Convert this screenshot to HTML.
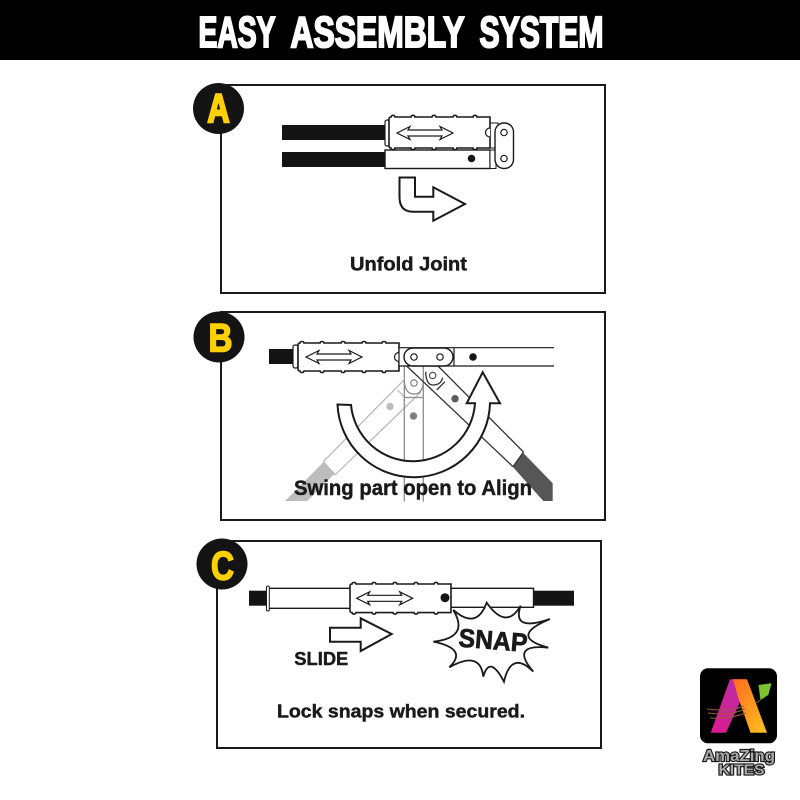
<!DOCTYPE html>
<html>
<head>
<meta charset="utf-8">
<style>
html,body{margin:0;padding:0;background:#fff;width:800px;height:800px;overflow:hidden}
svg{display:block}
text{font-family:"Liberation Sans",sans-serif;font-weight:bold}
.l{fill:#1a1a1a;stroke:#1a1a1a;stroke-width:.45}
.h{fill:#fff;stroke:#fff;stroke-width:2.1}
.b{fill:#fdd000;stroke:#fdd000;stroke-width:1.6}
.k{fill:#aaa;stroke:#161616;stroke-width:2.2;paint-order:stroke}
</style>
</head>
<body>
<svg width="800" height="800" viewBox="0 0 800 800" xmlns="http://www.w3.org/2000/svg">
<defs>
<path id="sl" d="M0,2 Q0,0 2,0 a2,1.5 0 0 1 4,0 h16 a2,1.5 0 0 1 4,0 h17 a2,1.5 0 0 1 4,0 h17 a2,1.5 0 0 1 4,0 h16 a2,1.5 0 0 1 4,0 H101 V28 H88 a2,1.5 0 0 1 -4,0 h-16 a2,1.5 0 0 1 -4,0 h-17 a2,1.5 0 0 1 -4,0 h-17 a2,1.5 0 0 1 -4,0 h-16 a2,1.5 0 0 1 -4,0 Q0,28 0,26 Z" fill="#fff" stroke="#1a1a1a" stroke-width="1.6" vector-effect="non-scaling-stroke"/>
<path id="da" d="M0,0 L13,-6.5 L11,-3 H45 L43,-6.5 L56,0 L43,6.5 L45,3 H11 L13,6.5 Z" fill="#fff" stroke="#1a1a1a" stroke-width="1.2"/>
<linearGradient id="gr" x1="0" y1="0" x2="1" y2="1"><stop offset="0" stop-color="#ff6a1f"/><stop offset="1" stop-color="#ffc21f"/></linearGradient>
<linearGradient id="gl" x1="0" y1="1" x2="1" y2="0"><stop offset="0" stop-color="#e0188f"/><stop offset="1" stop-color="#b62fa6"/></linearGradient>
</defs>

<!-- header -->
<rect x="0" y="0" width="800" height="60" fill="#000"/>
<text class="h" x="198.5" y="47" font-size="43.5" textLength="77" lengthAdjust="spacingAndGlyphs">EASY</text>
<text class="h" x="290.5" y="47" font-size="43.5" textLength="174" lengthAdjust="spacingAndGlyphs">ASSEMBLY</text>
<text class="h" x="479.5" y="47" font-size="43.5" textLength="124" lengthAdjust="spacingAndGlyphs">SYSTEM</text>

<!-- Panel A -->
<rect x="221" y="85" width="384" height="208" fill="#fff" stroke="#1a1a1a" stroke-width="2"/>
<circle cx="218.5" cy="108.5" r="25.5" fill="#141414"/>
<text class="b" style="stroke-width:2.4" x="207.5" y="122" font-size="40" textLength="22" lengthAdjust="spacingAndGlyphs">A</text>

<rect x="282" y="125" width="103" height="15" fill="#141414"/>
<rect x="282" y="152" width="103" height="15" fill="#141414"/>
<rect x="385" y="120" width="5" height="26" rx="2" fill="#fff" stroke="#1a1a1a" stroke-width="1.2"/>
<rect x="490" y="123" width="8" height="25" fill="#fff" stroke="#1a1a1a" stroke-width="1"/>
<use href="#sl" transform="translate(389,117) scale(1,1.107)"/>
<path d="M490,128 A4.5,4.5 0 1 0 490,137" fill="#fff" stroke="#1a1a1a" stroke-width="1.2"/>
<use href="#da" x="397" y="133"/>
<rect x="385" y="150" width="105" height="18.5" fill="#fff" stroke="#1a1a1a" stroke-width="1.4"/>
<rect x="490" y="150" width="6" height="18.5" fill="#fff" stroke="#1a1a1a" stroke-width="1"/>
<circle cx="471.5" cy="158.5" r="3.8" fill="#141414"/>
<rect x="495" y="123" width="18.5" height="45.5" rx="9" fill="#fff" stroke="#1a1a1a" stroke-width="1.4"/>
<circle cx="504" cy="132.5" r="3.2" fill="#fff" stroke="#1a1a1a" stroke-width="1.2"/>
<circle cx="504" cy="158.5" r="3.2" fill="#fff" stroke="#1a1a1a" stroke-width="1.2"/>
<path d="M399.5,177.5 H415 V196.7 H433.3 V187.3 L465,204 L433.3,220.7 V211.7 H413 Q399.5,211.7 399.5,197 Z" fill="#fff" stroke="#1a1a1a" stroke-width="2"/>
<text class="l" x="350" y="270.5" font-size="19.5" textLength="117" lengthAdjust="spacingAndGlyphs">Unfold Joint</text>

<!-- Panel B -->
<rect x="221" y="312" width="384" height="208" fill="#fff" stroke="#1a1a1a" stroke-width="2"/>
<circle cx="219" cy="337" r="25.5" fill="#141414"/>
<text class="b" x="208.5" y="351.5" font-size="40" textLength="24" lengthAdjust="spacingAndGlyphs">B</text>

<!-- light diagonal -->
<path d="M323.3,462.3 L335,473.3 L307.3,501 H285 Z" fill="#bdbdbd"/>
<g fill="none" stroke="#b5b5b5" stroke-width="1.2">
<path d="M404,380 L323.3,461.7"/>
<path d="M420.7,392.3 L335,475"/>
<path d="M323.3,461.7 L335,475"/>
<path d="M397.3,390 L405,397.3"/>
</g>
<circle cx="390" cy="406.5" r="3.7" fill="#bdbdbd"/>
<!-- vertical -->
<g fill="none" stroke="#8d8d8d" stroke-width="1.3">
<path d="M404.3,366 V501.5"/>
<path d="M423.3,366 V501.5"/>
<path d="M404.3,397.5 H423.3"/>
<path d="M404.3,381 Q405,394 414,394 Q423,394 423.3,381"/>
</g>
<circle cx="414" cy="383" r="3.2" fill="#fff" stroke="#777" stroke-width="1.1"/>
<circle cx="413.5" cy="416" r="3.7" fill="#808080"/>
<!-- dark diagonal -->
<path d="M523.3,453 L552.7,483.3 V501 H543.3 L512.7,466.7 Z" fill="#565656"/>
<g fill="none" stroke="#333" stroke-width="1.3">
<path d="M406.7,366 L513,466.7"/>
<path d="M438,366 L523.5,452"/>
<path d="M513,466.7 L523.5,452"/>
<path d="M425.7,371.7 Q426,385 433,385 Q441,385 442.7,377.7"/>
<path d="M436.7,390 L445,381.7"/>
</g>
<circle cx="432.7" cy="375.5" r="3.2" fill="#fff" stroke="#444" stroke-width="1.1"/>
<circle cx="455" cy="398.7" r="3.7" fill="#5c5c5c"/>

<rect x="269" y="349" width="25" height="15" fill="#141414"/>
<rect x="293" y="345" width="5" height="23" rx="2" fill="#fff" stroke="#1a1a1a" stroke-width="1.2"/>
<use href="#sl" x="298" y="343"/>
<path d="M399,352.5 A4.5,4.5 0 1 0 399,361.5" fill="#fff" stroke="#1a1a1a" stroke-width="1.2"/>
<use href="#da" x="306" y="357"/>
<path d="M554,347.7 H399 V366 H554" fill="#fff" stroke="#1a1a1a" stroke-width="1.2"/>
<path d="M454,347.7 V366" stroke="#1a1a1a" stroke-width="1.2"/>
<rect x="404" y="348" width="49" height="18" rx="9" fill="#fff" stroke="#1a1a1a" stroke-width="1.4"/>
<circle cx="414" cy="357" r="3.2" fill="#fff" stroke="#1a1a1a" stroke-width="1.2"/>
<circle cx="440" cy="357" r="3.2" fill="#fff" stroke="#1a1a1a" stroke-width="1.2"/>
<circle cx="473" cy="357" r="3.8" fill="#141414"/>

<path d="M337.5,404.5 L351,405 A62.2,62 0 0 0 475,403.3 H466.7 L482.7,372.3 L500,403.3 H490 A76.3,76 0 0 1 337.5,404.5 Z" fill="#fff" stroke="#1a1a1a" stroke-width="2"/>
<text class="l" x="294" y="495" font-size="21" textLength="238" lengthAdjust="spacingAndGlyphs">Swing part open to Align</text>

<!-- Panel C -->
<rect x="217" y="541" width="384" height="207" fill="#fff" stroke="#1a1a1a" stroke-width="2"/>
<circle cx="222" cy="564" r="25.5" fill="#141414"/>
<text class="b" x="211" y="579.5" font-size="40" textLength="23" lengthAdjust="spacingAndGlyphs">C</text>

<rect x="249" y="590.7" width="20" height="15" fill="#141414"/>
<rect x="533" y="590.7" width="41" height="15" fill="#141414"/>
<rect x="267" y="588.3" width="84" height="20" rx="1" fill="#fff" stroke="#1a1a1a" stroke-width="1.4"/>
<rect x="266.5" y="586" width="2.8" height="25" rx="1.4" fill="#fff" stroke="#1a1a1a" stroke-width="1"/>
<rect x="450" y="588.3" width="83.5" height="19" fill="#fff" stroke="#1a1a1a" stroke-width="1.4"/>
<use href="#sl" transform="translate(350,584) scale(1,1.02)"/>
<circle cx="445" cy="597.7" r="4.5" fill="#141414"/>
<use href="#da" x="356.7" y="598.3"/>

<path d="M330,627.7 H360.7 V618.3 L391.7,634 L360.7,651 V641.7 H330 Z" fill="#fff" stroke="#1a1a1a" stroke-width="2"/>
<text class="l" x="294.3" y="665" font-size="18" textLength="54" lengthAdjust="spacingAndGlyphs">SLIDE</text>

<g transform="translate(190,535) scale(0.3333)">
<path d="M790,225 Q860,286 890,203 Q949,287 992,212 Q964,292 1080,252 Q953,305 1075,338 Q958,326 1030,410 Q964,345 942,440 Q899,358 880,425 Q871,345 778,397 Q836,342 730,320 Q840,308 790,225 Z" fill="#fff" stroke="#1a1a1a" stroke-width="5.5" stroke-linejoin="miter"/>
</g>
<text class="l" style="stroke-width:.7" transform="translate(458,646.5) rotate(4.5)" font-size="26" textLength="69" lengthAdjust="spacingAndGlyphs">SNAP</text>

<text class="l" x="277" y="717.5" font-size="18.5" textLength="248" lengthAdjust="spacingAndGlyphs">Lock snaps when secured.</text>

<!-- Logo -->
<rect x="700" y="668.3" width="77" height="75" rx="8" fill="#000"/>
<path d="M710.7,732.7 L730,679.3 H745 L740,702 L726,732.7 Z" fill="url(#gl)"/>
<path d="M733,679.3 H747 L767,732.7 H750.5 L738,697 Z" fill="url(#gr)"/>
<path d="M758.5,685 L771.5,683.3 L768.3,695 L760.5,700 Z" fill="#7cc52e"/>
<path d="M756,703 L760.5,700" stroke="#9a9a5a" stroke-width="0.7"/>
<g fill="none" stroke="#9a5a38" stroke-width="1.1">
<path d="M707,709 Q730,712 744,706"/>
<path d="M708,713 Q730,716 745,709"/>
<path d="M710,718 Q730,719 746,713"/>
</g>
<text class="k" x="703" y="761" font-size="16" textLength="72" lengthAdjust="spacingAndGlyphs">AmaZing</text>
<text class="k" x="718.5" y="774.5" font-size="14.5" textLength="46" lengthAdjust="spacingAndGlyphs">KITES</text>
</svg>
</body>
</html>
